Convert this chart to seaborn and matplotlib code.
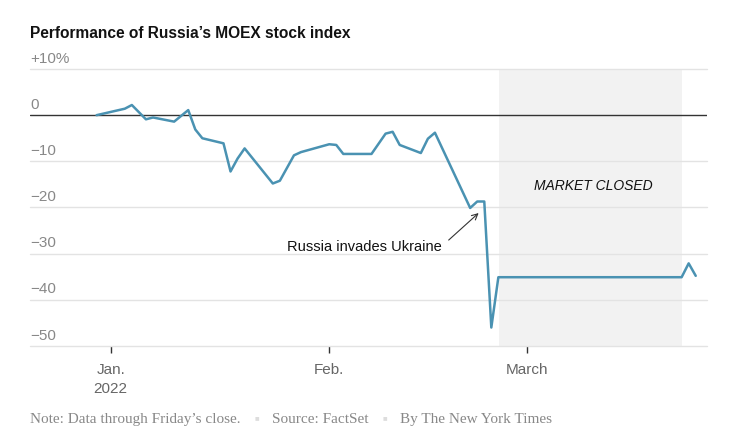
import matplotlib
matplotlib.use("Agg")
import matplotlib.pyplot as plt
import matplotlib.transforms as mtransforms
import pandas as pd
import seaborn as sns

# MOEX index, % change since Dec. 30, 2021 close
dates = ["2021-12-30", "2022-01-03", "2022-01-04", "2022-01-06", "2022-01-07",
         "2022-01-10", "2022-01-12", "2022-01-13", "2022-01-14", "2022-01-17",
         "2022-01-18", "2022-01-19", "2022-01-20", "2022-01-24", "2022-01-25",
         "2022-01-27", "2022-01-28", "2022-02-01", "2022-02-02", "2022-02-03",
         "2022-02-07", "2022-02-09", "2022-02-10", "2022-02-11", "2022-02-14",
         "2022-02-15", "2022-02-16", "2022-02-21", "2022-02-22", "2022-02-23",
         "2022-02-24", "2022-02-25", "2022-03-23", "2022-03-24", "2022-03-25"]
change = [0.0, 1.4, 2.2, -0.9, -0.5,
          -1.4, 1.1, -3.1, -5.0, -6.1,
          -12.2, -9.4, -7.2, -14.8, -14.2,
          -8.7, -8.0, -6.3, -6.45, -8.4,
          -8.4, -4.0, -3.6, -6.45, -8.2,
          -5.1, -3.8, -20.1, -18.7, -18.7,
          -46.0, -35.1, -35.1, -32.1, -34.8]

y_ticks = [10, 0, -10, -20, -30, -40, -50]
y_labels = ["+10%", "0", "\u221210", "\u221220", "\u221230", "\u221240", "\u221250"]
x_ticks = ["2022-01-01", "2022-02-01", "2022-03-01"]
x_labels = ["Jan.\n2022", "Feb.", "March"]
closed_start, closed_end = "2022-02-25 02:00", "2022-03-23 02:00"

df = pd.DataFrame({"date": pd.to_datetime(dates), "change": change})

sns.set_theme(style="white")
plt.rcParams["font.family"] = ["Liberation Sans", "DejaVu Sans"]

fig = plt.figure(figsize=(7.4, 4.44), dpi=100)
ax = fig.add_axes([30 / 740, 98 / 444, 677 / 740, 277 / 444])

ax.axvspan(pd.Timestamp(closed_start), pd.Timestamp(closed_end), color="#f2f2f2", zorder=0, lw=0)

sns.lineplot(data=df, x="date", y="change", ax=ax, color="#4a92b2", lw=1.8, zorder=3)

# gridlines, drawn unclipped so the bottom one at -50 shows
for v in y_ticks:
    if v == 0:
        ax.axhline(v, color="#333333", lw=1, zorder=2)
    else:
        ax.axhline(v, color="#e3e3e3", lw=1, zorder=1, clip_on=False)

jan1 = pd.Timestamp("2022-01-01")
ax.set_xlim(jan1 + pd.Timedelta(days=-11.45), jan1 + pd.Timedelta(days=84.6))
ax.set_ylim(-50, 10)

ax.set_yticks([])
trans = mtransforms.blended_transform_factory(ax.transAxes, ax.transData)
for v, lab in zip(y_ticks, y_labels):
    ax.annotate(lab, xy=(0, v), xycoords=trans, xytext=(0, 2.5), textcoords="offset points",
                ha="left", va="bottom", fontsize=11, color="#888888")

ax.set_xticks(pd.to_datetime(x_ticks))
ax.set_xticklabels(x_labels, fontsize=11, color="#666666", linespacing=1.4)
ax.tick_params(axis="x", length=5, width=1, color="#333333", direction="out", pad=7.5, bottom=True)
for s in ax.spines.values():
    s.set_visible(False)
ax.set_xlabel("")
ax.set_ylabel("")

ax.text(pd.Timestamp("2022-03-10 12:00"), -15.3, "MARKET CLOSED", style="italic",
        ha="center", va="center", fontsize=10, color="#121212")
ax.annotate("Russia invades Ukraine", xy=(jan1 + pd.Timedelta(days=52.2), -21.2),
            xytext=(jan1 + pd.Timedelta(days=46.9), -28.5), ha="right", va="center",
            fontsize=10.5, color="#121212",
            arrowprops=dict(arrowstyle="->", color="#333333", lw=0.8,
                            relpos=(1, 0.5), shrinkA=4, shrinkB=0))

fig.text(30 / 740, 1 - 33 / 444, "Performance of Russia\u2019s MOEX stock index",
         fontsize=11.2, fontweight="bold", color="#121212", ha="left", va="center")

serif = ["Liberation Serif", "DejaVu Serif"]
foot_y = 1 - 419 / 444
fig.text(30 / 740, foot_y, "Note: Data through Friday\u2019s close.", family=serif,
         fontsize=11, color="#888888", va="center")
fig.text(257 / 740, foot_y, "\u25a0", fontsize=5.5, color="#dddddd", va="center", ha="center")
fig.text(272 / 740, foot_y, "Source: FactSet", family=serif, fontsize=11, color="#888888", va="center")
fig.text(385 / 740, foot_y, "\u25a0", fontsize=5.5, color="#dddddd", va="center", ha="center")
fig.text(400 / 740, foot_y, "By The New York Times", family=serif, fontsize=11, color="#888888", va="center")

fig.savefig("out.png", dpi=100)
